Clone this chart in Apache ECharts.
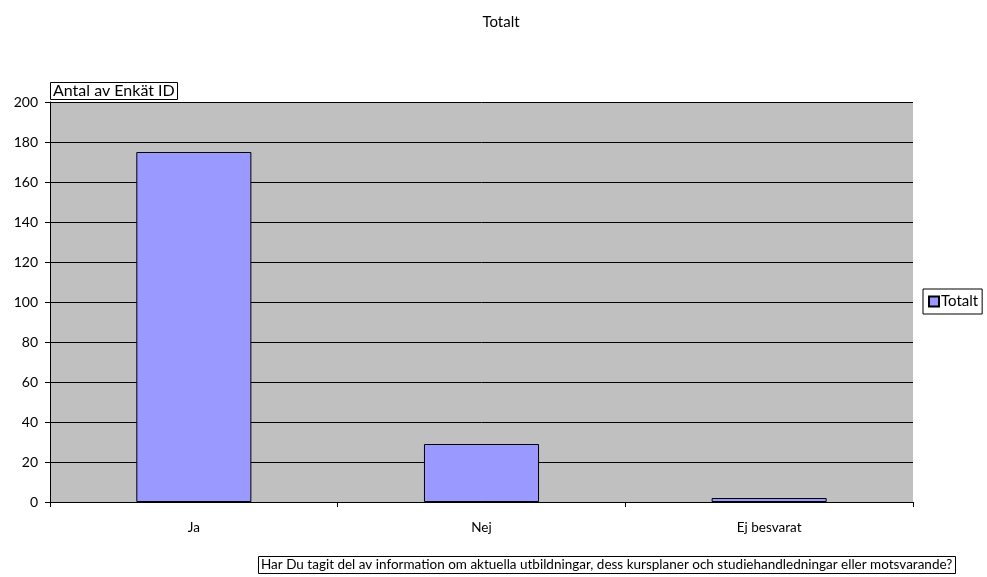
<!DOCTYPE html>
<html>
<head>
<meta charset="utf-8">
<script src="https://cdn.jsdelivr.net/npm/echarts@6/dist/echarts.min.js"></script>
<style>
  html, body { margin: 0; padding: 0; background: #fff; }
  #chart { width: 987px; height: 577px; }
</style>
</head>
<body>
<div id="chart"></div>
<script>
// Survey answers: count of respondents per answer
const categories = ['Ja', 'Nej', 'Ej besvarat'];
const totals = [175, 29, 2];
const seriesName = 'Totalt';
const yTicks = [0, 20, 40, 60, 80, 100, 120, 140, 160, 180, 200];

const font = 'Lato, "Open Sans", sans-serif';

const chart = echarts.init(document.getElementById('chart'));
chart.setOption({
  animation: false,
  backgroundColor: '#ffffff',
  textStyle: { fontFamily: font, color: '#000' },
  title: [
    {
      text: 'Totalt',
      left: 496, top: 10,
      textAlign: 'center',
      textStyle: { fontSize: 15, fontWeight: 'normal', color: '#000', fontFamily: font }
    },
    {
      text: 'Antal av Enkät ID',
      left: 50, top: 82,
      padding: [1, 3, 1, 3],
      borderColor: '#000', borderWidth: 1,
      textStyle: { fontSize: 16, fontWeight: 'normal', color: '#000', fontFamily: font }
    },
    {
      text: 'Har Du tagit del av information om aktuella utbildningar, dess kursplaner och studiehandledningar eller motsvarande?',
      left: 258, top: 556,
      padding: [2, 3, 2, 3],
      borderColor: '#000', borderWidth: 1,
      textStyle: { fontSize: 13.5, fontWeight: 'normal', color: '#000', fontFamily: font }
    }
  ],
  legend: {
    left: 923, top: 289,
    orient: 'vertical',
    borderColor: '#000', borderWidth: 1,
    padding: [5, 4, 5, 5],
    itemWidth: 10, itemHeight: 10, itemGap: 4,
    icon: 'rect',
    textStyle: { fontSize: 15, color: '#000', fontFamily: font, padding: [0, 0, 0, -3] },
    data: [seriesName]
  },
  grid: {
    left: 50, right: 74, top: 102, bottom: 75,
    show: true, backgroundColor: '#c0c0c0', borderWidth: 0
  },
  xAxis: {
    type: 'category',
    data: categories,
    axisLine: { lineStyle: { color: '#000', width: 1 } },
    axisTick: { show: true, length: 5, alignWithLabel: false, lineStyle: { color: '#000' } },
    axisLabel: { margin: 19, fontSize: 13.5, color: '#000', fontFamily: font }
  },
  yAxis: {
    type: 'value',
    min: yTicks[0], max: yTicks[yTicks.length - 1], interval: 20,
    axisLine: { show: true, lineStyle: { color: '#000', width: 1 } },
    axisTick: { show: true, length: 5, lineStyle: { color: '#000' } },
    axisLabel: { margin: 12, fontSize: 14, color: '#000', fontFamily: font },
    splitLine: { show: true, lineStyle: { color: '#000', width: 1 } }
  },
  series: [{
    name: seriesName,
    type: 'bar',
    data: totals,
    barCategoryGap: '60%',
    itemStyle: { color: '#9999ff', borderColor: '#000', borderWidth: 1 }
  }]
});
</script>
</body>
</html>
